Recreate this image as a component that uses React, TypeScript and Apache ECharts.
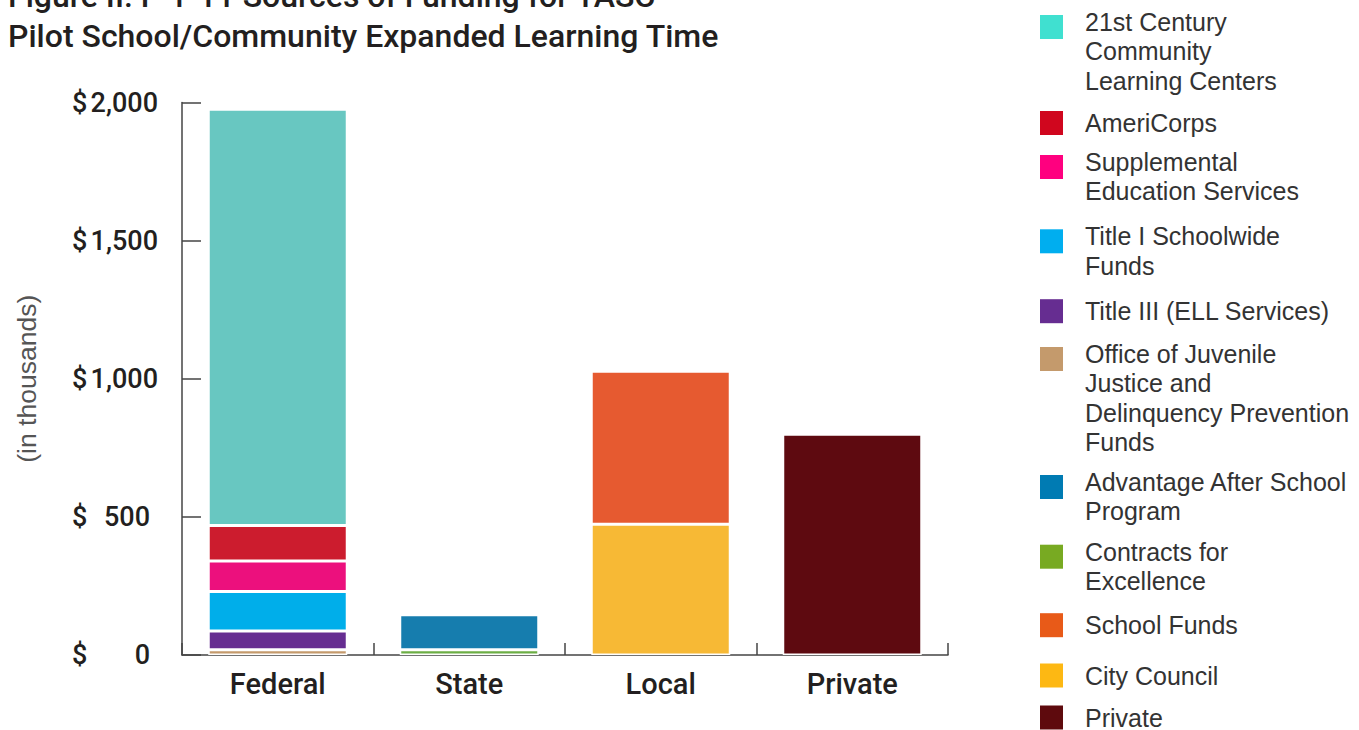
import React, { useEffect, useRef } from "react";
import * as echarts from "echarts";

// ---- data ----
const categories = ["Federal", "State", "Local", "Private"];
const yTicks = [0, 500, 1000, 1500, 2000];

const ojjdp = [19, null, null, null];
const titleIII = [68, null, null, null];
const titleI = [143, null, null, null];
const supplemental = [110, null, null, null];
const americorps = [129, null, null, null];
const cclc = [1507, null, null, null];
const contracts = [null, 19, null, null];
const advantage = [null, 127, null, null];
const cityCouncil = [null, null, 473, null];
const schoolFunds = [null, null, 554, null];
const privateFunds = [null, null, null, 799];

const titleLines = [
  "Figure II. F-1-11 Sources of Funding for TASC",
  "Pilot School/Community Expanded Learning Time",
];
const yAxisName = "(in thousands)";

// series in stacking order (bottom first)
const seriesDefs = [
  { name: "Office of Juvenile Justice and Delinquency Prevention Funds", data: ojjdp, bar: "#C49A6C", leg: "#C49A6C", lines: ["Office of Juvenile", "Justice and", "Delinquency Prevention", "Funds"], c: 359 },
  { name: "Title III (ELL Services)", data: titleIII, bar: "#662D91", leg: "#662D91", lines: ["Title III (ELL Services)"], c: 310.7 },
  { name: "Title I Schoolwide Funds", data: titleI, bar: "#00AEEA", leg: "#00AEEF", lines: ["Title I Schoolwide", "Funds"], c: 241.3 },
  { name: "Supplemental Education Services", data: supplemental, bar: "#EC107D", leg: "#FF007F", lines: ["Supplemental", "Education Services"], c: 167 },
  { name: "AmeriCorps", data: americorps, bar: "#CC1C2E", leg: "#D0061E", lines: ["AmeriCorps"], c: 122.5 },
  { name: "21st Century Community Learning Centers", data: cclc, bar: "#68C7C1", leg: "#40E0D0", lines: ["21st Century", "Community", "Learning Centers"], c: 27 },
  { name: "Contracts for Excellence", data: contracts, bar: "#6CAE45", leg: "#78AA22", lines: ["Contracts for", "Excellence"], c: 556.7 },
  { name: "Advantage After School Program", data: advantage, bar: "#167DAE", leg: "#007BB3", lines: ["Advantage After School", "Program"], c: 487 },
  { name: "City Council", data: cityCouncil, bar: "#F7B935", leg: "#FDB813", lines: ["City Council"], c: 675 },
  { name: "School Funds", data: schoolFunds, bar: "#E65A30", leg: "#E85A18", lines: ["School Funds"], c: 624.7 },
  { name: "Private", data: privateFunds, bar: "#5E0A10", leg: "#5E0A0D", lines: ["Private"], c: 717 },
];

const INK = "#231F20";
const AXIS = "#444444";
const LABEL_FONT = "Roboto";
const LEG_FONT = "Liberation Sans";
const LH = 29.3;
const LEG_SIZE = 25;

function fmtNum(v: number) {
  return v >= 1000 ? `${Math.floor(v / 1000)},${String(v % 1000).padStart(3, "0")}` : String(v);
}

export default function App() {
  const ref = useRef<HTMLDivElement>(null);
  useEffect(() => {
    if (!ref.current) return;
    const chart = echarts.init(ref.current, null, { renderer: "svg" });

    const legends = seriesDefs.map((s) => {
      const n = s.lines.length;
      const d = n > 1 ? 5 : 0;
      const sp = (n - 1) * LH - 2 * d;
      const lh = n > 1 ? LH : 24;
      const box = Math.max(sp + n * lh, 24);
      const body = s.lines.map((l) => `{t|${l}}`).join("\n");
      const text = sp > 0 ? `{s| }\n${body}` : body;
      return {
        show: true,
        orient: "vertical",
        left: 1040,
        top: s.c - box / 2,
        padding: 0,
        itemGap: 0,
        itemWidth: 23,
        itemHeight: 24,
        selectedMode: false,
        icon: "rect",
        data: [{ name: s.name, itemStyle: { color: s.leg, borderWidth: 0 } }],
        formatter: () => text,
        textStyle: {
          fontFamily: LEG_FONT,
          fontSize: LEG_SIZE,
          lineHeight: lh,
          color: "#333333",
          padding: [0, 0, 0, 17],
          rich: {
            s: { fontSize: 2, lineHeight: sp > 0 ? sp : 1, fontFamily: LEG_FONT },
            t: { fontSize: LEG_SIZE, lineHeight: lh, fontFamily: LEG_FONT, color: "#333333" },
          },
        },
      };
    });

    const option: any = {
      animation: false,
      backgroundColor: "#ffffff",
      title: {
        text: titleLines.join("\n"),
        left: 8,
        top: -24.5,
        padding: 0,
        textStyle: {
          fontFamily: LABEL_FONT,
          fontWeight: 500,
          fontSize: 32,
          lineHeight: 40,
          color: INK,
        },
      },
      legend: legends,
      grid: { left: 182, right: 411, top: 102.5, bottom: 75, containLabel: false },
      xAxis: {
        type: "category",
        data: categories,
        boundaryGap: true,
        axisLine: { show: true, lineStyle: { color: AXIS, width: 1.5 } },
        axisTick: { show: true, inside: true, length: 12, interval: 0, lineStyle: { color: AXIS, width: 1.5 } },
        axisLabel: {
          margin: 14,
          fontFamily: LABEL_FONT,
          fontWeight: 500,
          fontSize: 29,
          color: INK,
        },
      },
      yAxis: {
        type: "value",
        min: yTicks[0],
        max: yTicks[yTicks.length - 1],
        interval: yTicks[1] - yTicks[0],
        name: yAxisName,
        nameLocation: "middle",
        nameRotate: 90,
        nameGap: 142,
        nameTextStyle: { fontFamily: LEG_FONT, fontSize: 26.5, color: "#555555" },
        splitLine: { show: false },
        axisLine: { show: true, lineStyle: { color: AXIS, width: 1.5 } },
        axisTick: { show: true, inside: true, length: 19, lineStyle: { color: AXIS, width: 1.5 } },
        axisLabel: {
          margin: 110,
          align: "left",
          formatter: (v: number) => (v >= 1000 ? `{d|$}{n|${fmtNum(v)}}` : `{d|$}{m|${fmtNum(v)}}`),
          rich: {
            d: { width: 18, align: "left", fontFamily: LABEL_FONT, fontWeight: 500, fontSize: 27, color: INK },
            n: { width: 68, align: "right", fontFamily: LABEL_FONT, fontWeight: 500, fontSize: 27, color: INK },
            m: { width: 60, align: "right", fontFamily: LABEL_FONT, fontWeight: 500, fontSize: 27, color: INK },
          },
        },
      },
      series: seriesDefs.map((s) => ({
        name: s.name,
        type: "bar",
        stack: "total",
        barWidth: 139,
        data: s.data.map((v) => (v === null ? "-" : v)),
        itemStyle: { color: s.bar, borderColor: "#ffffff", borderWidth: 1.5 },
        emphasis: { disabled: true },
      })),
    };
    chart.setOption(option);
    return () => chart.dispose();
  }, []);
  return (
    <div
      ref={ref}
      style={{ position: "absolute", left: 0, top: 0, width: 1359, height: 730, overflow: "hidden" }}
    />
  );
}
